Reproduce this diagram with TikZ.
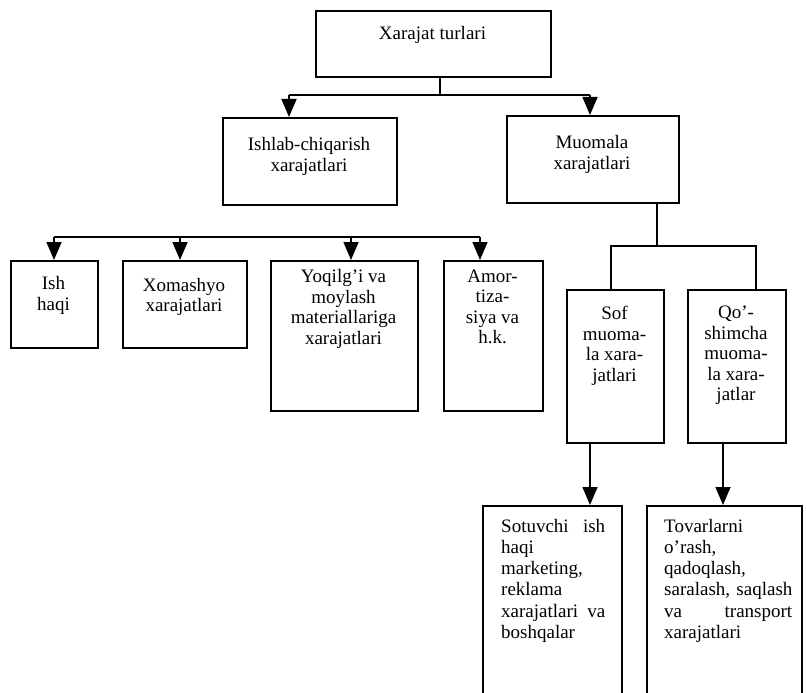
\documentclass[tikz,border=0pt]{standalone}
\usepackage{fontspec}
\setmainfont{Liberation Serif}
\usetikzlibrary{arrows.meta}
\begin{document}
\begin{tikzpicture}[x=1pt,y=-1pt,
  box/.style={draw, line width=1.6pt, rectangle, inner sep=0pt, anchor=north west},
  txt/.style={anchor=north, inner sep=0pt, align=center, font=\fontsize{19}{20.5}\selectfont, execute at begin node=\strut},
  ptxt/.style={anchor=north west, inner sep=0pt, align=left, font=\fontsize{19}{21.2}\selectfont, execute at begin node=\strut},
  conn/.style={line width=1.6pt, line join=miter},
  arr/.style={line width=1.6pt, -{Triangle[width=15pt,length=18pt]}}
]
\useasboundingbox (0,0) rectangle (807,693);
\clip (0,0) rectangle (807,693);

% boxes
\node[box, minimum width=235pt, minimum height=66pt] (top) at (315,10) {};
\node[box, minimum width=174pt, minimum height=87pt] (ishlab) at (222,117) {};
\node[box, minimum width=172pt, minimum height=87pt] (muomala) at (506,115) {};
\node[box, minimum width=87pt, minimum height=87pt] (ish) at (10,260) {};
\node[box, minimum width=124pt, minimum height=87pt] (xom) at (122,260) {};
\node[box, minimum width=147pt, minimum height=150pt] (yoq) at (270,260) {};
\node[box, minimum width=99pt, minimum height=150pt] (amor) at (443,260) {};
\node[box, minimum width=97pt, minimum height=153pt] (sof) at (566,289) {};
\node[box, minimum width=98pt, minimum height=153pt] (qosh) at (687,289) {};
\node[box, minimum width=139pt, minimum height=200pt] (sot) at (482,505) {};
\node[box, minimum width=155pt, minimum height=200pt] (tov) at (646,505) {};

% texts
\node[txt] (t0) at (432.5,25.3) {Xarajat turlari};
\node[txt] (t1) at (309,137.3) {Ishlab-chiqarish\\xarajatlari};
\node[txt] (t2) at (592,135.3) {Muomala\\xarajatlari};
\node[txt] (t3) at (53.5,276.3) {Ish\\haqi};
\node[txt] (t4) at (184,278) {Xomashyo\\xarajatlari};
\node[txt] (t5) at (343.5,269.3) {Yoqilg’i va\\moylash\\materiallariga\\xarajatlari};
\node[txt] (t6) at (492.5,269.3) {Amor-\\tiza-\\siya va\\h.k.};
\node[txt] (t7) at (614.5,306) {Sof\\muoma-\\la xara-\\jatlari};
\node[txt] (t8) at (736,306) {Qo’-\\shimcha\\muoma-\\la xara-\\jatlar};
\node[ptxt, text width=104pt] (t9) at (501,517.3) {Sotuvchi \hfill ish\\haqi\\marketing,\\reklama\\xarajatlari \hfill va\\boshqalar};
\node[ptxt, text width=128pt] (t10) at (664,517.3) {Tovarlarni\\o’rash,\\qadoqlash,\\saralash,~saqlash\\va \hfill transport\\xarajatlari};

% level 1 connectors
\coordinate (s0) at (440,95);
\coordinate (s0L) at (289,95);
\coordinate (s0R) at (590,95);
\draw[conn] (top.south -| s0) -- (s0);
\draw[conn] (s0L) -- (s0R);
\draw[arr] (s0L) -- (s0L |- ishlab.north);
\draw[arr] (s0R) -- (s0R |- muomala.north);

% level 2 connectors (production costs)
\coordinate (h1) at (54,237);
\coordinate (h2) at (180,237);
\coordinate (h3) at (351,237);
\coordinate (h4) at (480,237);
\draw[conn] (h1) -- (h4);
\draw[arr] (h1) -- (h1 |- ish.north);
\draw[arr] (h2) -- (h2 |- xom.north);
\draw[arr] (h3) -- (h3 |- yoq.north);
\draw[arr] (h4) -- (h4 |- amor.north);

% circulation costs split
\coordinate (m0) at (657,246);
\coordinate (mL) at (611,246);
\coordinate (mR) at (756,246);
\draw[conn] (muomala.south -| m0) -- (m0);
\draw[conn] (mL |- sof.north) -- (mL) -- (mR) -- (mR |- qosh.north);

% bottom arrows
\coordinate (d1) at (590,442);
\coordinate (d2) at (723,442);
\draw[arr] (sof.south -| d1) -- (d1 |- sot.north);
\draw[arr] (qosh.south -| d2) -- (d2 |- tov.north);
\end{tikzpicture}
\end{document}
